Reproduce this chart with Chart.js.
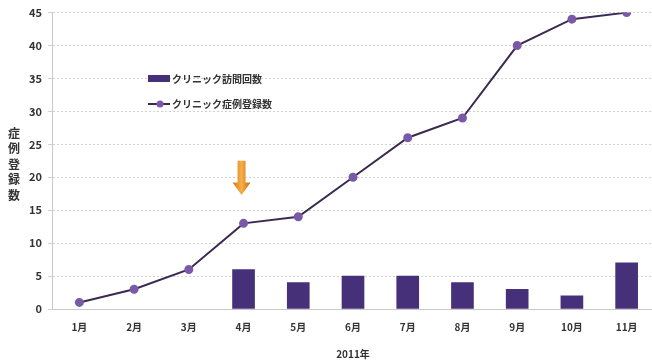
<!DOCTYPE html>
<html>
<head>
<meta charset="utf-8">
<script src="https://cdn.jsdelivr.net/npm/chart.js@4/dist/chart.umd.min.js"></script>
<style>
  html, body { margin: 0; padding: 0; background: #fff; overflow: hidden; }
</style>
</head>
<body>
<canvas id="myChart" width="660" height="360"></canvas>
<script>
const months = ["1月", "2月", "3月", "4月", "5月", "6月", "7月", "8月", "9月", "10月", "11月"];
const visits = [null, null, null, 6, 4, 5, 5, 4, 3, 2, 7];
const registrations = [1, 3, 6, 13, 14, 20, 26, 29, 40, 44, 45];
const yTitle = ["症", "例", "登", "録", "数"];

const FONT = "'Noto Sans CJK JP', 'DejaVu Sans', sans-serif";
const TEXT = "#333333";
const BAR = "#46307a";
const LINE = "#3a2a52";
const DOT = "#7a5aa8";

// legend drawn inside the plot, left side
const innerLegend = {
  id: "innerLegend",
  afterDraw(chart)
  {
    const ctx = chart.ctx;
    const sets = chart.data.datasets;
    ctx.save();
    ctx.font = "bold 10px " + FONT;
    ctx.textBaseline = "middle";

    ctx.fillStyle = BAR;
    ctx.fillRect(148, 75, 22, 7);
    ctx.fillStyle = TEXT;
    ctx.fillText(sets[0].label, 172, 79);

    ctx.strokeStyle = LINE;
    ctx.lineWidth = 2;
    ctx.beginPath();
    ctx.moveTo(148, 104);
    ctx.lineTo(170, 104);
    ctx.stroke();
    ctx.fillStyle = DOT;
    ctx.beginPath();
    ctx.arc(160, 104, 3.5, 0, Math.PI * 2);
    ctx.fill();
    ctx.fillStyle = TEXT;
    ctx.fillText(sets[1].label, 172, 104);
    ctx.restore();
  }
};

// stacked vertical y title and the orange marker arrow
const extras = {
  id: "extras",
  afterDraw(chart)
  {
    const ctx = chart.ctx;
    const y = chart.scales.y;
    const x = chart.scales.x;
    ctx.save();
    ctx.font = "bold 12px " + FONT;
    ctx.fillStyle = TEXT;
    ctx.textAlign = "center";
    ctx.textBaseline = "middle";
    yTitle.forEach((ch, i) => ctx.fillText(ch, 14, 133 + i * 15.5));

    const cx = x.getPixelForValue(3) - 2;
    const top = y.getPixelForValue(22.5);
    const neck = y.getPixelForValue(19.2);
    const tip = y.getPixelForValue(17.3);
    const g = ctx.createLinearGradient(cx - 9, 0, cx + 9, 0);
    g.addColorStop(0, "#d9751a");
    g.addColorStop(0.5, "#f7b045");
    g.addColorStop(1, "#c9651a");
    ctx.fillStyle = g;
    ctx.beginPath();
    ctx.moveTo(cx - 4, top);
    ctx.lineTo(cx + 4, top);
    ctx.lineTo(cx + 4, neck);
    ctx.lineTo(cx + 9, neck);
    ctx.lineTo(cx, tip);
    ctx.lineTo(cx - 9, neck);
    ctx.lineTo(cx - 4, neck);
    ctx.closePath();
    ctx.fill();
    ctx.restore();
  }
};

const element = document.getElementById("myChart");

new Chart(element, {
  type: "bar",
  data: {
    labels: months,
    datasets: [
      {
        type: "bar",
        label: "クリニック訪問回数",
        data: visits,
        backgroundColor: BAR,
        barThickness: 22,
        order: 2,
      },
      {
        type: "line",
        label: "クリニック症例登録数",
        data: registrations,
        borderColor: LINE,
        borderWidth: 2,
        pointBackgroundColor: DOT,
        pointBorderColor: DOT,
        pointRadius: 3.5,
        tension: 0,
        order: 1,
      },
    ],
  },
  plugins: [innerLegend, extras],
  options: {
    responsive: false,
    animation: false,
    devicePixelRatio: 1,
    layout: {
      padding: {top: 8, right: 0, left: 0, bottom: 0},
    },
    plugins: {
      legend: {display: false},
      tooltip: {enabled: false},
    },
    scales: {
      x: {
        grid: {display: false},
        border: {color: "#c8c8c8", dash: [2, 2]},
        ticks: {
          color: TEXT,
          font: {family: FONT, size: 10, weight: "bold"},
          padding: 4,
          maxRotation: 0,
        },
        title: {
          display: true,
          text: "2011年",
          color: TEXT,
          font: {family: FONT, size: 10, weight: "bold"},
          padding: {top: 8, bottom: 0},
        },
        afterFit: (scale) => { scale.height = 51; },
      },
      y: {
        min: 0,
        max: 45,
        ticks: {
          stepSize: 5,
          color: TEXT,
          font: {family: FONT, size: 11, weight: "bold"},
          padding: 6,
        },
        grid: {
          color: "#d2d2d2",
          tickLength: 4,
        },
        border: {display: true, color: "#c8c8c8", dash: [2, 2]},
        afterFit: (scale) => { scale.width = 52; },
      },
    },
  },
});
</script>
</body>
</html>
